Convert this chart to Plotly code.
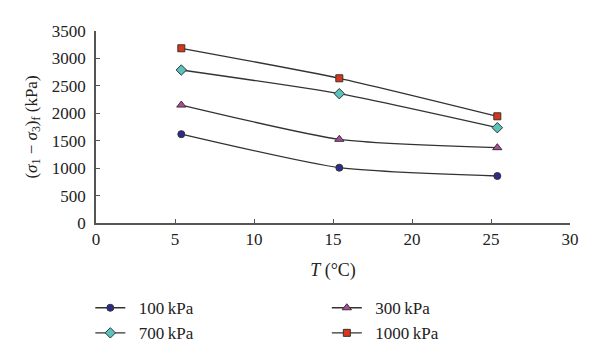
import plotly.graph_objects as go

temps = [5.4, 15.4, 25.4]
s100 = [1620, 1008, 857]
s300 = [2150, 1526, 1373]
s700 = [2789, 2357, 1737]
s1000 = [3185, 2638, 1945]
names = ["100 kPa", "300 kPa", "700 kPa", "1000 kPa"]
x_ticks = [0, 5, 10, 15, 20, 25, 30]
y_ticks = [0, 500, 1000, 1500, 2000, 2500, 3000, 3500]

series = [s100, s300, s700, s1000]
symbols = ["circle", "triangle-up", "diamond", "square"]
colors = ["#2E2B8E", "#B2479E", "#5CC2BE", "#DA3419"]
sizes = [7, 8, 8, 7]
legend_ids = ["legend", "legend2", "legend", "legend2"]

FONT = "Liberation Serif, Times New Roman, serif"

fig = go.Figure()
for ys, nm, sym, col, sz, lg in zip(series, names, symbols, colors, sizes, legend_ids):
    fig.add_trace(go.Scatter(
        x=temps, y=ys, name="\u2002" + nm.replace(" ", "\u2009"),
        mode="lines+markers", legend=lg,
        line=dict(color="#333333", width=1.3, shape="spline", smoothing=0.6),
        marker=dict(symbol=sym, size=sz, color=col,
                    line=dict(color="#333333", width=1)),
    ))

leg_common = dict(orientation="v", yanchor="top", xanchor="left",
                  font=dict(family=FONT, size=17, color="#222222"),
                  itemwidth=30, tracegroupgap=0, bgcolor="rgba(0,0,0,0)")

# page body has an 8px default margin, so the figure is 8px smaller
fig.update_layout(
    width=592, height=350,
    margin=dict(l=88, r=30, t=23, b=135, autoexpand=False),
    paper_bgcolor="white", plot_bgcolor="white",
    font=dict(family=FONT, size=17, color="#222222"),
    showlegend=True,
    legend=dict(x=-0.012, y=-0.35, **leg_common),
    legend2=dict(x=0.487, y=-0.35, **leg_common),
)
fig.update_xaxes(
    range=[0, 30], tickvals=x_ticks, ticktext=[str(v) for v in x_ticks],
    showgrid=False, zeroline=False, showline=True, linecolor="#555555", linewidth=1.5,
    ticks="inside", ticklen=4, tickcolor="#555555", tickwidth=1,
    tickfont=dict(family=FONT, size=17, color="#222222"),
    title=dict(text="<i>T</i> (°C)", font=dict(family=FONT, size=18), standoff=15),
)
fig.update_yaxes(
    range=[0, 3500], tickvals=y_ticks, ticktext=[str(v) for v in y_ticks],
    showgrid=False, zeroline=False, showline=True, linecolor="#555555", linewidth=1.5,
    ticks="inside", ticklen=4, tickcolor="#555555", tickwidth=1,
    ticklabelstandoff=5,
    tickfont=dict(family=FONT, size=17, color="#222222"),
    title=dict(text="(<i>σ</i><sub>1</sub> − <i>σ</i><sub>3</sub>)<sub>f</sub> (kPa)",
               font=dict(family=FONT, size=17), standoff=10),
)

fig.write_html("out.html")
